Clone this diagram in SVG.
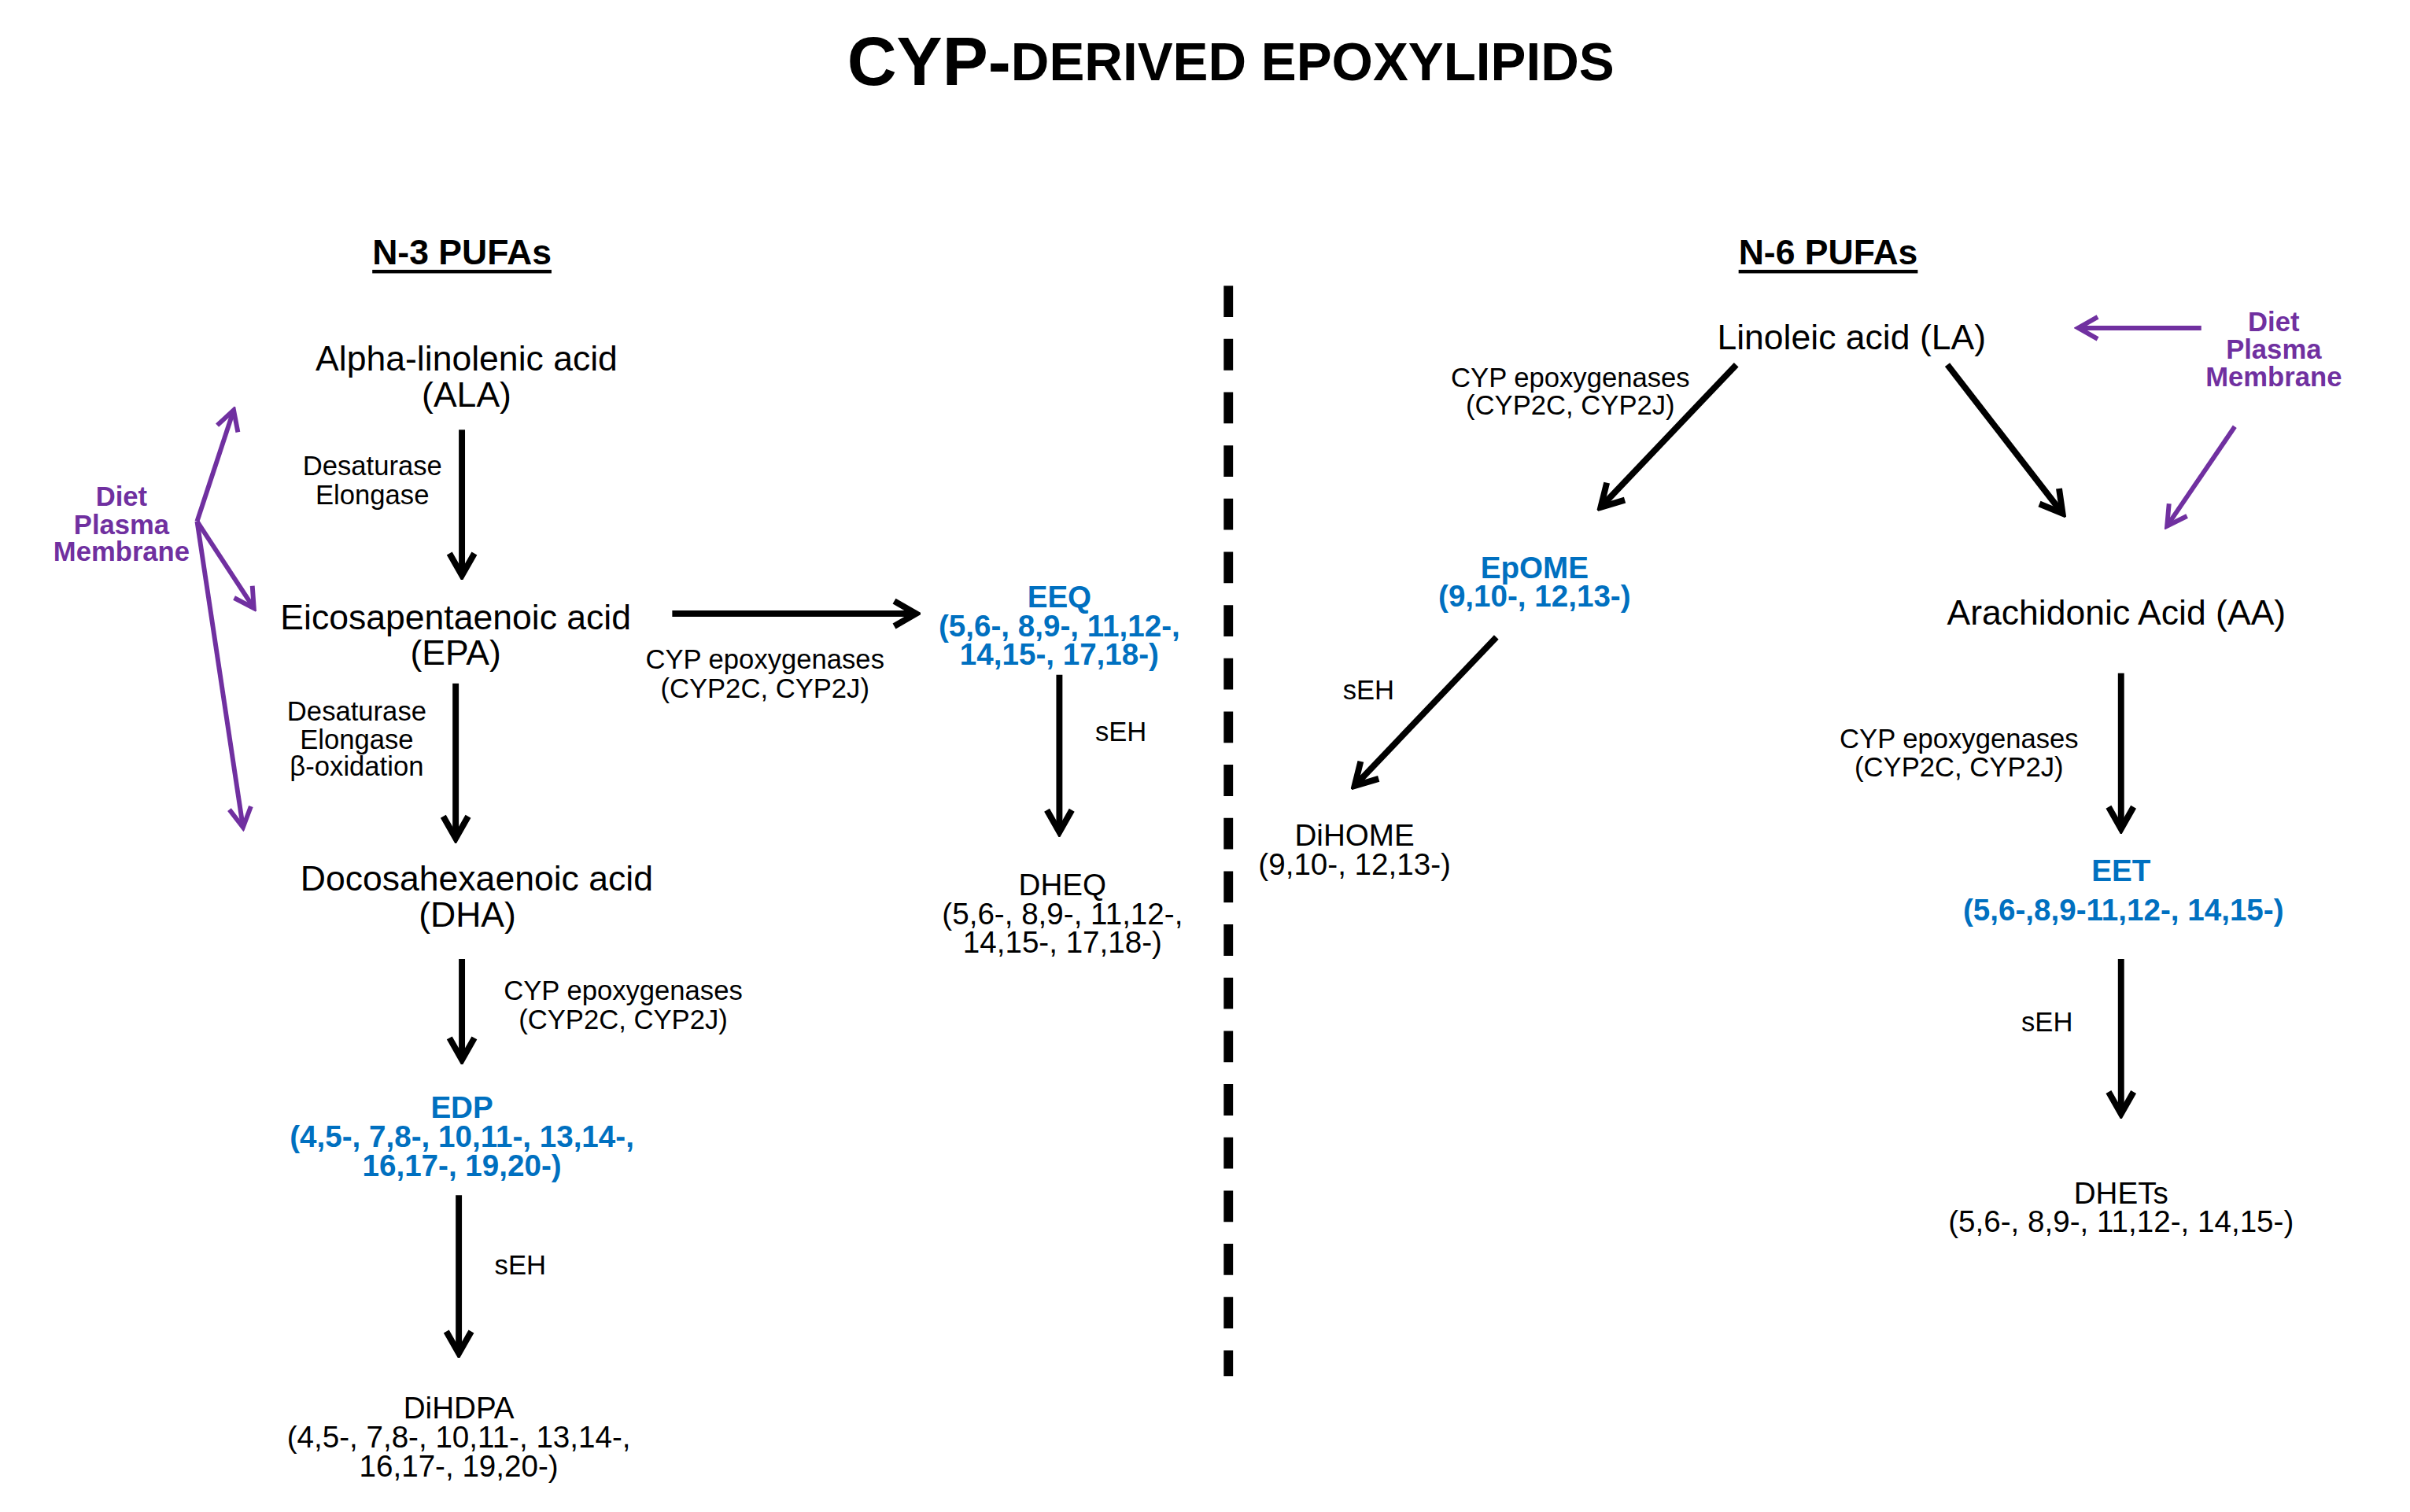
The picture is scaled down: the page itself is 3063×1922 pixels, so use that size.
<svg xmlns="http://www.w3.org/2000/svg" width="3063" height="1922" viewBox="0 0 3063 1922">
<style>
text{font-family:"Liberation Sans",Arial,sans-serif;text-anchor:middle;dominant-baseline:central;fill:#000}
.n{font-size:45px}.m{font-size:39px}.s{font-size:35px}
.b{font-size:39px;font-weight:bold;fill:#0070C0}
.p{font-size:35px;font-weight:bold;fill:#7030A0}
.h{font-size:45px;font-weight:bold;text-decoration:underline}
.a{stroke:#000;stroke-width:8;fill:none;marker-end:url(#ab)}
.ap{stroke:#7030A0;stroke-width:6;fill:none;marker-end:url(#ap)}
</style>
<defs>
<marker id="ab" viewBox="0 0 40 40" refX="34" refY="20" markerWidth="40" markerHeight="40" markerUnits="userSpaceOnUse" orient="auto"><path d="M6,4 L34,20 L6,36" stroke="#000" stroke-width="8" fill="none"/></marker>
<marker id="ap" viewBox="0 0 36 36" refX="31" refY="18" markerWidth="36" markerHeight="36" markerUnits="userSpaceOnUse" orient="auto"><path d="M6,4 L31,18 L6,32" stroke="#7030A0" stroke-width="6" fill="none"/></marker>
</defs>
<rect width="3063" height="1922" fill="#fff"/>
<g transform="scale(0.99,0.995)">
<text x="1580" y="78" style="font-weight:bold"><tspan font-size="88">CYP-</tspan><tspan font-size="68">DERIVED EPOXYLIPIDS</tspan></text>
<text class="h" x="593" y="322">N-3 PUFAs</text>
<text class="h" x="2347" y="322">N-6 PUFAs</text>
<line x1="1577" y1="365" x2="1577" y2="1758" stroke="#000" stroke-width="12" stroke-dasharray="40,28"/>
<g id="ala"><text class="n" x="599" y="458">Alpha-linolenic acid</text><text class="n" x="599" y="504">(ALA)</text></g>
<g id="epa"><text class="n" x="585" y="788">Eicosapentaenoic acid</text><text class="n" x="585" y="834">(EPA)</text></g>
<g id="dha"><text class="n" x="612" y="1122">Docosahexaenoic acid</text><text class="n" x="600" y="1168">(DHA)</text></g>
<g id="edp"><text class="b" x="593" y="1415">EDP</text><text class="b" x="593" y="1452">(4,5-, 7,8-, 10,11-, 13,14-,</text><text class="b" x="593" y="1489">16,17-, 19,20-)</text></g>
<g id="dihdpa"><text class="m" x="589" y="1798">DiHDPA</text><text class="m" x="589" y="1836">(4,5-, 7,8-, 10,11-, 13,14-,</text><text class="m" x="589" y="1873">16,17-, 19,20-)</text></g>
<g id="eeq"><text class="b" x="1360" y="762">EEQ</text><text class="b" x="1360" y="799">(5,6-, 8,9-, 11,12-,</text><text class="b" x="1360" y="836">14,15-, 17,18-)</text></g>
<g id="dheq"><text class="m" x="1364" y="1130">DHEQ</text><text class="m" x="1364" y="1167">(5,6-, 8,9-, 11,12-,</text><text class="m" x="1364" y="1203">14,15-, 17,18-)</text></g>
<g id="diet1"><text class="p" x="156" y="634">Diet</text><text class="p" x="156" y="670">Plasma</text><text class="p" x="156" y="705">Membrane</text></g>
<g id="la"><text class="n" x="2377" y="431">Linoleic acid (LA)</text></g>
<g id="diet2"><text class="p" x="2919" y="411">Diet</text><text class="p" x="2919" y="446">Plasma</text><text class="p" x="2919" y="481">Membrane</text></g>
<g id="epome"><text class="b" x="1970" y="725">EpOME</text><text class="b" x="1970" y="761">(9,10-, 12,13-)</text></g>
<g id="dihome"><text class="m" x="1739" y="1067">DiHOME</text><text class="m" x="1739" y="1104">(9,10-, 12,13-)</text></g>
<g id="aa"><text class="n" x="2717" y="782">Arachidonic Acid (AA)</text></g>
<g id="eet"><text class="b" x="2723" y="1112">EET</text><text class="b" x="2726" y="1162">(5,6-,8,9-11,12-, 14,15-)</text></g>
<g id="dhets"><text class="m" x="2723" y="1524">DHETs</text><text class="m" x="2723" y="1560">(5,6-, 8,9-, 11,12-, 14,15-)</text></g>
<g id="labels">
<text class="s" x="478" y="595">Desaturase</text><text class="s" x="478" y="632">Elongase</text>
<text class="s" x="458" y="909">Desaturase</text><text class="s" x="458" y="945">Elongase</text><text class="s" x="458" y="979">β-oxidation</text>
<text class="s" x="800" y="1265">CYP epoxygenases</text><text class="s" x="800" y="1302">(CYP2C, CYP2J)</text>
<text class="s" x="668" y="1616">sEH</text>
<text class="s" x="982" y="842">CYP epoxygenases</text><text class="s" x="982" y="879">(CYP2C, CYP2J)</text>
<text class="s" x="1439" y="935">sEH</text>
<text class="s" x="2016" y="482">CYP epoxygenases</text><text class="s" x="2016" y="518">(CYP2C, CYP2J)</text>
<text class="s" x="1757" y="881">sEH</text>
<text class="s" x="2515" y="944">CYP epoxygenases</text><text class="s" x="2515" y="980">(CYP2C, CYP2J)</text>
<text class="s" x="2628" y="1306">sEH</text>
</g>
<g id="connectors">
<line class="a" x1="593" y1="549" x2="593" y2="735"/>
<line class="a" x1="585" y1="873" x2="585" y2="1071"/>
<line class="a" x1="593" y1="1225" x2="593" y2="1354"/>
<line class="a" x1="589" y1="1527" x2="589" y2="1729"/>
<line class="a" x1="863" y1="784" x2="1176" y2="784"/>
<line class="a" x1="1360" y1="862" x2="1360" y2="1063"/>
<line class="a" x1="2229" y1="466" x2="2055" y2="648"/>
<line class="a" x1="2500" y1="466" x2="2648" y2="656"/>
<line class="a" x1="1921" y1="814" x2="1739" y2="1004"/>
<line class="a" x1="2723" y1="860" x2="2723" y2="1059"/>
<line class="a" x1="2723" y1="1225" x2="2723" y2="1423"/>
<line class="ap" x1="253" y1="666" x2="300" y2="524"/>
<line class="ap" x1="253" y1="666" x2="326" y2="777"/>
<line class="ap" x1="253" y1="666" x2="312" y2="1057"/>
<line class="ap" x1="2826" y1="419" x2="2668" y2="419"/>
<line class="ap" x1="2869" y1="545" x2="2782" y2="672"/>
</g>
</g>
</svg>
